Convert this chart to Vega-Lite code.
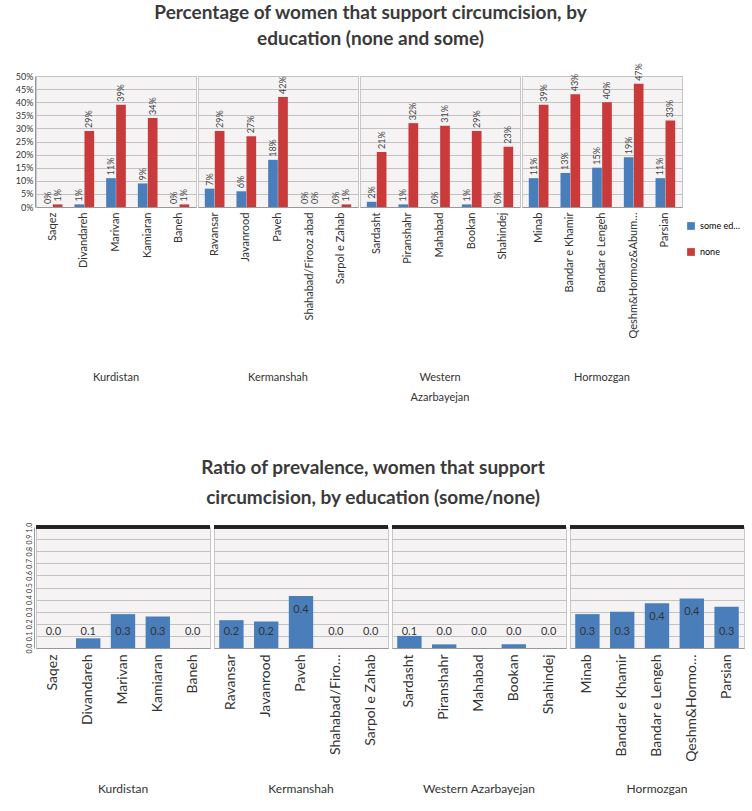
{
  "$schema": "https://vega.github.io/schema/vega-lite/v6.json",
  "background": "white",
  "padding": {"left": 0, "top": 3, "right": 0, "bottom": 0},
  "config": {
    "font": "Lato",
    "view": {"stroke": "#c8c8c8", "fill": "#f6f3f4"},
    "axis": {"labelFont": "Lato", "labelColor": "#333", "gridColor": "#c2c2c2", "domainColor": "#999", "tickColor": "#999", "labelFontSize": 10},
    "header": {"labelFont": "Lato", "labelFontSize": 12, "labelColor": "#333"},
    "title": {"font": "Lato", "fontSize": 19, "fontWeight": "bold", "color": "#3a3a3a", "anchor": "middle", "lineHeight": 26},
    "legend": {"labelFont": "Lato"}
  },
  "datasets": {
    "d": [
      {"region": "Kurdistan", "district": "Saqez", "some": 0.0, "none": 0.01, "ratio": 0.0},
      {"region": "Kurdistan", "district": "Divandareh", "some": 0.01, "none": 0.29, "ratio": 0.08},
      {"region": "Kurdistan", "district": "Marivan", "some": 0.11, "none": 0.39, "ratio": 0.28},
      {"region": "Kurdistan", "district": "Kamiaran", "some": 0.09, "none": 0.34, "ratio": 0.26},
      {"region": "Kurdistan", "district": "Baneh", "some": 0.0, "none": 0.01, "ratio": 0.0},
      {"region": "Kermanshah", "district": "Ravansar", "some": 0.07, "none": 0.29, "ratio": 0.23},
      {"region": "Kermanshah", "district": "Javanrood", "some": 0.06, "none": 0.27, "ratio": 0.22},
      {"region": "Kermanshah", "district": "Paveh", "some": 0.18, "none": 0.42, "ratio": 0.43},
      {"region": "Kermanshah", "district": "Shahabad/Firooz abad", "some": 0.0, "none": 0.0, "ratio": 0.0},
      {"region": "Kermanshah", "district": "Sarpol e Zahab", "some": 0.0, "none": 0.01, "ratio": 0.0},
      {"region": "Western Azarbayejan", "district": "Sardasht", "some": 0.02, "none": 0.21, "ratio": 0.1},
      {"region": "Western Azarbayejan", "district": "Piranshahr", "some": 0.01, "none": 0.32, "ratio": 0.03},
      {"region": "Western Azarbayejan", "district": "Mahabad", "some": 0.0, "none": 0.31, "ratio": 0.0},
      {"region": "Western Azarbayejan", "district": "Bookan", "some": 0.01, "none": 0.29, "ratio": 0.03},
      {"region": "Western Azarbayejan", "district": "Shahindej", "some": 0.0, "none": 0.23, "ratio": 0.0},
      {"region": "Hormozgan", "district": "Minab", "some": 0.11, "none": 0.39, "ratio": 0.28},
      {"region": "Hormozgan", "district": "Bandar e Khamir", "some": 0.13, "none": 0.43, "ratio": 0.3},
      {"region": "Hormozgan", "district": "Bandar e Lengeh", "some": 0.15, "none": 0.4, "ratio": 0.37},
      {"region": "Hormozgan", "district": "Qeshm&Hormoz&Abumusa", "some": 0.19, "none": 0.47, "ratio": 0.41},
      {"region": "Hormozgan", "district": "Parsian", "some": 0.11, "none": 0.33, "ratio": 0.34}
    ]
  },
  "spacing": 56,
  "resolve": {"scale": {"color": "independent"}, "legend": {"color": "independent"}},
  "vconcat": [
    {
      "title": {"text": ["Percentage of women that support circumcision, by", "education (none and some)"], "offset": 14},
      "data": {"name": "d"},
      "facet": {
        "column": {
          "field": "region", "type": "nominal",
          "sort": ["Kurdistan", "Kermanshah", "Western Azarbayejan", "Hormozgan"],
          "header": {"labelOrient": "bottom", "title": null, "labelFontSize": 11, "labelPadding": 33, "labelLineHeight": 20,
            "labelExpr": "datum.value == 'Western Azarbayejan' ? ['Western', 'Azarbayejan'] : datum.value"}
        }
      },
      "spacing": 0,
      "resolve": {"scale": {"x": "independent"}},
      "spec": {
        "width": 160,
        "height": 131,
        "encoding": {
          "x": {"field": "district", "type": "nominal", "sort": null,
            "scale": {"paddingInner": 0.35, "paddingOuter": 0.2},
            "axis": {"title": null, "labelAngle": 270, "ticks": false, "labelPadding": 5, "labelLimit": 127, "labelFontSize": 11}}
        },
        "layer": [
          {
            "mark": {"type": "bar", "width": {"band": 0.47}, "xOffset": -5},
            "encoding": {
              "y": {"field": "some", "type": "quantitative", "scale": {"domain": [0, 0.5]},
                "axis": {"title": null, "format": ".0%", "values": [0, 0.05, 0.1, 0.15, 0.2, 0.25, 0.3, 0.35, 0.4, 0.45, 0.5], "labelFontSize": 9, "minExtent": 34, "maxExtent": 34, "ticks": false, "labelOverlap": false}},
              "color": {"datum": "some",
                "scale": {"domain": ["some", "none"], "range": ["#4a7ebb", "#c93a3b"]},
                "legend": {"title": null, "orient": "none", "legendX": 650, "legendY": 145, "symbolType": "square", "symbolSize": 60, "labelFontSize": 9, "rowPadding": 16, "labelLimit": 45,
                  "labelExpr": "datum.value == 'some' ? 'some education' : 'none'"}}
            }
          },
          {
            "mark": {"type": "bar", "width": {"band": 0.47}, "xOffset": 5},
            "encoding": {
              "y": {"field": "none", "type": "quantitative",
                "axis": {"title": null, "format": ".0%", "values": [0, 0.05, 0.1, 0.15, 0.2, 0.25, 0.3, 0.35, 0.4, 0.45, 0.5], "labelFontSize": 9, "minExtent": 34, "maxExtent": 34, "ticks": false, "labelOverlap": false}},
              "color": {"datum": "none"}
            }
          },
          {
            "mark": {"type": "text", "angle": 270, "align": "left", "baseline": "middle", "dx": 3, "xOffset": -5, "fontSize": 9, "color": "#444"},
            "encoding": {
              "y": {"field": "some", "type": "quantitative",
                "axis": {"title": null, "format": ".0%", "values": [0, 0.05, 0.1, 0.15, 0.2, 0.25, 0.3, 0.35, 0.4, 0.45, 0.5], "labelFontSize": 9, "minExtent": 34, "maxExtent": 34, "ticks": false, "labelOverlap": false}},
              "text": {"field": "some", "type": "quantitative", "format": ".0%"}}
          },
          {
            "mark": {"type": "text", "angle": 270, "align": "left", "baseline": "middle", "dx": 3, "xOffset": 5, "fontSize": 9, "color": "#444"},
            "encoding": {
              "y": {"field": "none", "type": "quantitative",
                "axis": {"title": null, "format": ".0%", "values": [0, 0.05, 0.1, 0.15, 0.2, 0.25, 0.3, 0.35, 0.4, 0.45, 0.5], "labelFontSize": 9, "minExtent": 34, "maxExtent": 34, "ticks": false, "labelOverlap": false}},
              "text": {"field": "none", "type": "quantitative", "format": ".0%"}}
          }
        ]
      }
    },
    {
      "title": {"text": ["Ratio of prevalence, women that support", "circumcision, by education (some/none)"], "offset": 14, "lineHeight": 30},
      "data": {"name": "d"},
      "facet": {
        "column": {
          "field": "region", "type": "nominal",
          "sort": ["Kurdistan", "Kermanshah", "Western Azarbayejan", "Hormozgan"],
          "header": {"labelOrient": "bottom", "title": null, "labelFontSize": 12, "labelPadding": 22}
        }
      },
      "spacing": 0,
      "resolve": {"scale": {"x": "independent"}},
      "spec": {
        "width": 174,
        "height": 121,
        "layer": [
          {
            "mark": {"type": "bar", "color": "#4a7ebb"},
            "encoding": {
              "x": {"field": "district", "type": "nominal", "sort": null,
                "scale": {"paddingInner": 0.3, "paddingOuter": 0.15},
                "axis": {"title": null, "labelAngle": 270, "ticks": false, "labelPadding": 6, "labelLimit": 108, "labelFontSize": 14}},
              "y": {"field": "ratio", "type": "quantitative", "scale": {"domain": [0, 1]},
                "axis": {"title": null, "format": ".1f", "values": [0, 0.1, 0.2, 0.3, 0.4, 0.5, 0.6, 0.7, 0.8, 0.9, 1.0], "labelAngle": 270, "labelFontSize": 7, "labelOverlap": false, "minExtent": 34, "maxExtent": 34, "ticks": false}}
            }
          },
          {
            "mark": {"type": "rule", "color": "#222", "strokeWidth": 3},
            "encoding": {"y": {"datum": 1,
                "axis": {"title": null, "format": ".1f", "values": [0, 0.1, 0.2, 0.3, 0.4, 0.5, 0.6, 0.7, 0.8, 0.9, 1.0], "labelAngle": 270, "labelFontSize": 7, "labelOverlap": false, "minExtent": 34, "maxExtent": 34, "ticks": false}}}
          },
          {
            "transform": [{"filter": "datum.ratio < 0.35"}],
            "mark": {"type": "text", "fontSize": 11, "color": "#333", "baseline": "middle"},
            "encoding": {
              "x": {"field": "district", "type": "nominal", "sort": null},
              "y": {"datum": 0.13,
                "axis": {"title": null, "format": ".1f", "values": [0, 0.1, 0.2, 0.3, 0.4, 0.5, 0.6, 0.7, 0.8, 0.9, 1.0], "labelAngle": 270, "labelFontSize": 7, "labelOverlap": false, "minExtent": 34, "maxExtent": 34, "ticks": false}},
              "text": {"field": "ratio", "type": "quantitative", "format": ".1f"}}
          },
          {
            "transform": [{"filter": "datum.ratio >= 0.35"}],
            "mark": {"type": "text", "fontSize": 11, "color": "#333", "baseline": "middle", "dy": 14},
            "encoding": {
              "x": {"field": "district", "type": "nominal", "sort": null},
              "y": {"field": "ratio", "type": "quantitative",
                "axis": {"title": null, "format": ".1f", "values": [0, 0.1, 0.2, 0.3, 0.4, 0.5, 0.6, 0.7, 0.8, 0.9, 1.0], "labelAngle": 270, "labelFontSize": 7, "labelOverlap": false, "minExtent": 34, "maxExtent": 34, "ticks": false}},
              "text": {"field": "ratio", "type": "quantitative", "format": ".1f"}}
          }
        ]
      }
    }
  ]
}
